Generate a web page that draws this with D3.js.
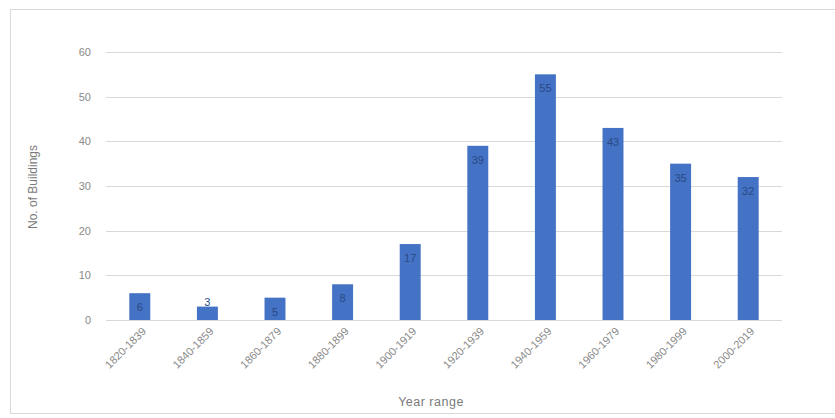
<!DOCTYPE html>
<html>
<head>
<meta charset="utf-8">
<script src="https://cdn.jsdelivr.net/npm/d3@7/dist/d3.min.js"></script>
<style>
  html, body { margin: 0; padding: 0; background: #fff; }
  svg { display: block; }
</style>
</head>
<body>
<svg id="chart" width="835" height="418"></svg>
<script>
const categories = ["1820-1839","1840-1859","1860-1879","1880-1899","1900-1919","1920-1939","1940-1959","1960-1979","1980-1999","2000-2019"];
const buildings = [6, 3, 5, 8, 17, 39, 55, 43, 35, 32];
const yTicks = [0, 10, 20, 30, 40, 50, 60];
const yTitle = "No. of Buildings";
const xTitle = "Year range";

const svg = d3.select("#chart");
const font = "'Liberation Sans', Arial, sans-serif";

// outer frame
svg.append("rect").attr("x", 10.5).attr("y", 9.5).attr("width", 840).attr("height", 404)
  .attr("fill", "none").attr("stroke", "#d9d9d9").attr("stroke-width", 1);

const x = d3.scaleBand().domain(categories).range([106, 782]).paddingInner(0.69).paddingOuter(0.345);
const y = d3.scaleLinear().domain([0, 60]).range([320, 52]);

// gridlines
svg.append("g").selectAll("line").data(yTicks).join("line")
  .attr("x1", 106).attr("x2", 782)
  .attr("y1", d => Math.round(y(d)) + 0.5).attr("y2", d => Math.round(y(d)) + 0.5)
  .attr("stroke", "#d9d9d9").attr("stroke-width", 1);

// y axis labels
const yAxis = d3.axisLeft(y).tickValues(yTicks).tickSize(0).tickPadding(0);
const gy = svg.append("g").attr("transform", "translate(91,0)").call(yAxis);
gy.select(".domain").remove();
gy.selectAll("text").attr("font-family", font).attr("font-size", 11).attr("fill", "#8a8a8a");

// bars
svg.append("g").selectAll("rect").data(buildings).join("rect")
  .attr("x", (d, i) => x(categories[i]))
  .attr("width", x.bandwidth())
  .attr("y", d => y(d))
  .attr("height", d => y(0) - y(d))
  .attr("fill", "#4472c4");

// data labels
svg.append("g").selectAll("text").data(buildings).join("text")
  .attr("x", (d, i) => x(categories[i]) + x.bandwidth() / 2)
  .attr("y", d => (y(0) - y(d) > 20 ? y(d) + 14 : y(d) - 4))
  .attr("dy", "0.35em")
  .attr("text-anchor", "middle")
  .attr("font-family", font).attr("font-size", 11)
  .attr("fill", "#2a4a85")
  .text(d => d);

// x axis
const xAxis = d3.axisBottom(x).tickSize(0).tickPadding(0);
const gx = svg.append("g").attr("transform", "translate(0,320)").call(xAxis);
gx.select(".domain").remove();
gx.selectAll("text")
  .attr("font-family", font).attr("font-size", 11).attr("fill", "#8a8a8a")
  .attr("text-anchor", "end")
  .attr("dy", null).attr("y", 0)
  .attr("transform", "translate(7,12) rotate(-45)");

// axis titles
svg.append("text")
  .attr("transform", "translate(37,187) rotate(-90)")
  .attr("text-anchor", "middle")
  .attr("font-family", font).attr("font-size", 12).attr("fill", "#7a7a7a")
  .text(yTitle);

svg.append("text")
  .attr("x", 431).attr("y", 406)
  .attr("text-anchor", "middle")
  .attr("font-family", font).attr("font-size", 12.5).attr("fill", "#7a7a7a")
  .attr("letter-spacing", "0.5px")
  .text(xTitle);
</script>
</body>
</html>
